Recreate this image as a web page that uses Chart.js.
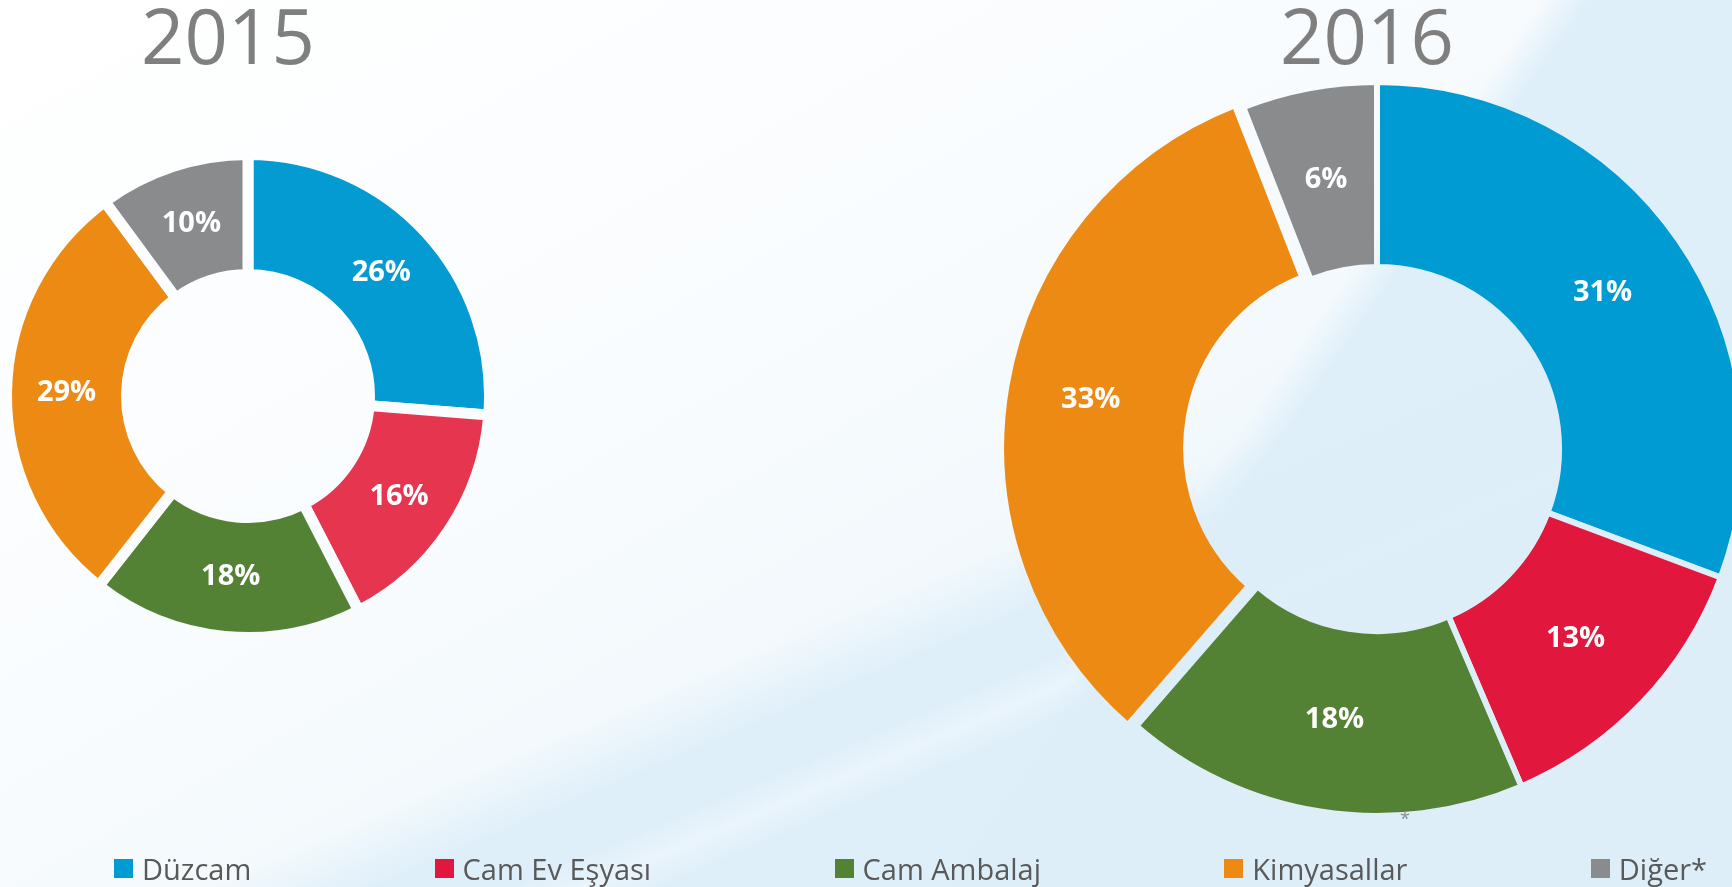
<!DOCTYPE html>
<html lang="tr">
<head>
<meta charset="utf-8">
<title>2015 - 2016</title>
<script src="https://cdn.jsdelivr.net/npm/chart.js@4.4.1/dist/chart.umd.min.js"></script>
<style>
  html, body {
    margin: 0;
    padding: 0;
    width: 1732px;
    height: 887px;
    overflow: hidden;
  }
  body {
    position: relative;
    font-family: "Open Sans", "Noto Sans", sans-serif;
    background: #f7fbfe;
  }
  canvas {
    position: absolute;
  }
  #bg {
    left: 0;
    top: 0;
  }
  .year {
    position: absolute;
    top: -3px;
    width: 240px;
    text-align: center;
    font-size: 76px;
    line-height: 1;
    color: #7f7f7f;
  }
  #legend {
    position: absolute;
    left: 114px;
    right: 25px;
    top: 854px;
    display: flex;
    justify-content: space-between;
    font-size: 29px;
    line-height: 1;
    color: #595959;
  }
  .item {
    display: flex;
    align-items: center;
    white-space: nowrap;
  }
  .swatch {
    width: 19px;
    height: 19px;
    margin-right: 9px;
  }
  #note {
    position: absolute;
    left: 1400px;
    top: 806px;
    font-size: 18px;
    color: #8c8c8c;
  }
</style>
</head>
<body>

<canvas id="bg" width="1732" height="887"></canvas>

<div class="year" id="title2015" style="left:108px"></div>
<div class="year" id="title2016" style="left:1247px"></div>

<canvas id="chart2015" width="496" height="500" style="left:0px; top:146px"></canvas>
<canvas id="chart2016" width="760" height="760" style="left:997px; top:69px"></canvas>

<div id="note">*</div>
<div id="legend"></div>

<script>
// ---------------- Data ----------------
const categories = ["Düzcam", "Cam Ev Eşyası", "Cam Ambalaj", "Kimyasallar", "Diğer*"];
const years = ["2015", "2016"];

const shares2015 = [26, 16, 18, 29, 10];
const shares2016 = [31, 13, 18, 33, 6];

const colors2015 = ["#039bd1", "#e6354f", "#548235", "#ed8a14", "#8a8b8d"];
const colors2016 = ["#009bd2", "#e2173e", "#548235", "#ed8a14", "#8a8b8d"];

// ---------------- Page background ----------------
// css-style angled gradient on a canvas
function angleGradient(ctx, deg, w, h, stops) {
  const a = (deg * Math.PI) / 180;
  const dx = Math.sin(a), dy = -Math.cos(a);
  const len = Math.abs(w * dx) + Math.abs(h * dy);
  const cx = w / 2, cy = h / 2;
  const g = ctx.createLinearGradient(
    cx - (dx * len) / 2, cy - (dy * len) / 2,
    cx + (dx * len) / 2, cy + (dy * len) / 2
  );
  stops.forEach(([p, c]) => g.addColorStop(p, c));
  return g;
}

function paintBackground() {
  const cv = document.getElementById("bg");
  const ctx = cv.getContext("2d");
  const w = cv.width, h = cv.height;
  const layers = [
    [151, [[0, "#ffffff"], [0.4, "#f9fcfe"], [0.62, "#f1f8fc"], [1, "#e9f4fb"]]],
    [157, [[0, "rgba(221,238,249,0)"], [0.6, "rgba(221,238,249,0)"], [0.645, "rgba(221,238,249,0.9)"], [1, "rgba(221,238,249,0.9)"]]],
    [157, [[0, "rgba(255,255,255,0)"], [0.68, "rgba(255,255,255,0)"], [0.70, "rgba(255,255,255,0.35)"], [0.72, "rgba(255,255,255,0)"], [1, "rgba(255,255,255,0)"]]],
    [125, [[0, "rgba(221,238,249,0)"], [0.655, "rgba(221,238,249,0)"], [0.675, "rgba(221,238,249,0.9)"], [1, "rgba(221,238,249,0.9)"]]],
  ];
  layers.forEach(([deg, stops]) => {
    ctx.fillStyle = angleGradient(ctx, deg, w, h, stops);
    ctx.fillRect(0, 0, w, h);
  });
  return cv;
}

// ---------------- Slice labels ----------------
// writes "NN%" in the middle of every slice
const sliceLabels = {
  id: "sliceLabels",
  afterDatasetsDraw(chart) {
    const ctx = chart.ctx;
    const meta = chart.getDatasetMeta(0);
    const values = chart.data.datasets[0].data;
    ctx.save();
    ctx.fillStyle = "#ffffff";
    ctx.font = "bold 29px 'Open Sans', 'Noto Sans', sans-serif";
    ctx.textAlign = "center";
    ctx.textBaseline = "middle";
    meta.data.forEach((arc, i) => {
      const pos = arc.tooltipPosition();
      ctx.fillText(values[i] + "%", pos.x, pos.y);
    });
    ctx.restore();
  },
};

// ---------------- Chart setup ----------------
// the gaps between slices are borders painted with the page background
function renderDonut(canvasId, values, colors, radius, cutout, gap, offsets, bgCanvas) {
  const el = document.getElementById(canvasId);
  const ctx = el.getContext("2d");
  const pattern = ctx.createPattern(bgCanvas, "no-repeat");
  pattern.setTransform(new DOMMatrix([1, 0, 0, 1, -el.offsetLeft, -el.offsetTop]));

  return new Chart(ctx, {
    type: "doughnut",
    data: {
      labels: categories,
      datasets: [
        {
          data: values,
          backgroundColor: colors,
          borderColor: pattern,
          borderWidth: gap,
          borderJoinStyle: "miter",
          offset: offsets,
        },
      ],
    },
    options: {
      responsive: false,
      animation: false,
      radius: radius,
      cutout: cutout,
      layout: { padding: 0 },
      plugins: {
        legend: { display: false },
        tooltip: { enabled: false },
      },
    },
    plugins: [sliceLabels],
  });
}

// ---------------- Legend ----------------
function buildLegend() {
  const legend = document.getElementById("legend");
  categories.forEach((name, i) => {
    const item = document.createElement("div");
    item.className = "item";
    const box = document.createElement("span");
    box.className = "swatch";
    box.style.background = colors2016[i];
    const label = document.createElement("span");
    label.textContent = name;
    item.appendChild(box);
    item.appendChild(label);
    legend.appendChild(item);
  });
}

// ---------------- Initialize ----------------
document.getElementById("title2015").textContent = years[0];
document.getElementById("title2016").textContent = years[1];

const bgCanvas = paintBackground();
renderDonut("chart2015", shares2015, colors2015, 241.5, "50.3%", 11, [0, 0, 0, 0, 0], bgCanvas);
renderDonut("chart2016", shares2016, colors2016, 367, "49.6%", 6, [0, 0, 0, 32, 0], bgCanvas);
buildLegend();
</script>
</body>
</html>
